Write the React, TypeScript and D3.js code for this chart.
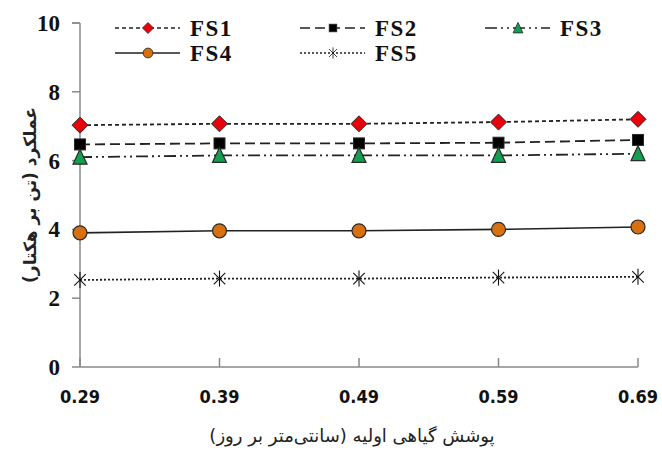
import React from "react";
import * as d3 from "d3";

const xLabels = ["0.29", "0.39", "0.49", "0.59", "0.69"];
const seriesNames = ["FS1", "FS2", "FS3", "FS4", "FS5"];
const fs1 = [7.03, 7.07, 7.07, 7.12, 7.2];
const fs2 = [6.47, 6.5, 6.5, 6.52, 6.6];
const fs3 = [6.1, 6.15, 6.15, 6.15, 6.2];
const fs4 = [3.9, 3.96, 3.96, 4.0, 4.07];
const fs5 = [2.53, 2.57, 2.57, 2.6, 2.62];
const yTicks = [0, 2, 4, 6, 8, 10];

const seriesValues = [fs1, fs2, fs3, fs4, fs5];
const dashes = ["4,3", "10,5", "12,4,2,4,2,4", "", "2,2"];
const markers = ["diamond", "square", "triangle", "circle", "asterisk"];
const fills = ["#e8000b", "#000000", "#12a050", "#d9700f", "none"];

function Marker({ type, x, y, fill }: { type: string; x: number; y: number; fill: string }) {
  const stroke = "#2a2a2a";
  if (type === "diamond") {
    const s = 8;
    return <path d={`M${x},${y - s}L${x + s},${y}L${x},${y + s}L${x - s},${y}Z`} fill={fill} stroke={stroke} strokeWidth={1} />;
  }
  if (type === "square") {
    const s = 5.5;
    return <rect x={x - s} y={y - s} width={2 * s} height={2 * s} fill={fill} stroke={stroke} strokeWidth={1} />;
  }
  if (type === "triangle") {
    const s = 7;
    return <path d={`M${x},${y - s - 1}L${x + s},${y + s}L${x - s},${y + s}Z`} fill={fill} stroke={stroke} strokeWidth={1.2} />;
  }
  if (type === "circle") {
    return <circle cx={x} cy={y} r={7} fill={fill} stroke={stroke} strokeWidth={1.2} />;
  }
  const s = 8;
  const d = s * 0.72;
  return (
    <g stroke="#111" strokeWidth={1.1}>
      <line x1={x} y1={y - s} x2={x} y2={y + s} />
      <line x1={x - d} y1={y - d} x2={x + d} y2={y + d} />
      <line x1={x - d} y1={y + d} x2={x + d} y2={y - d} />
    </g>
  );
}

export default function App() {
  const left = 80, right = 638, top = 23, bottom = 367;
  const x = d3.scalePoint<string>().domain(xLabels).range([left, right]);
  const y = d3.scaleLinear().domain([0, 10]).range([bottom, top]);
  const line = d3
    .line<number>()
    .x((_, i) => x(xLabels[i]) as number)
    .y((d) => y(d));

  const legendPos = [
    [115, 28],
    [300, 28],
    [485, 28],
    [115, 53],
    [300, 53],
  ];

  return (
    <svg width={662} height={450} style={{ position: "absolute", left: 0, top: 0, background: "#fff" }}>
      {/* axes */}
      <line x1={left} y1={top} x2={left} y2={bottom} stroke="#8a8a8a" strokeWidth={1.5} />
      <line x1={left - 8} y1={top} x2={left} y2={top} stroke="#8a8a8a" strokeWidth={1.5} />
      <line x1={left} y1={bottom} x2={right} y2={bottom} stroke="#8a8a8a" strokeWidth={1.5} />
      {yTicks.map((t) => (
        <g key={t}>
          <line x1={left - 8} y1={y(t)} x2={left} y2={y(t)} stroke="#8a8a8a" strokeWidth={1.5} />
          <text
            x={left - 20}
            y={y(t)}
            dy="0.35em"
            textAnchor="end"
            fontFamily="Liberation Serif, serif"
            fontWeight="bold"
            fontSize={23}
            fill="#111"
          >
            {t}
          </text>
        </g>
      ))}
      {xLabels.map((l) => (
        <g key={l}>
          <line x1={x(l)} y1={bottom - 9} x2={x(l)} y2={bottom} stroke="#8a8a8a" strokeWidth={1.5} />
          <text
            x={x(l)}
            y={bottom + 36}
            textAnchor="middle"
            fontFamily="DejaVu Sans Condensed, DejaVu Sans, sans-serif"
            fontWeight="bold"
            fontSize={18}
            fill="#111"
          >
            {l}
          </text>
        </g>
      ))}
      {/* series */}
      {seriesValues.map((vals, si) => (
        <g key={si}>
          <path
            d={line(vals) || ""}
            fill="none"
            stroke="#222"
            strokeWidth={si === 3 ? 1.6 : 1.8}
            strokeDasharray={dashes[si] || undefined}
          />
          {vals.map((v, i) => (
            <Marker key={i} type={markers[si]} x={x(xLabels[i]) as number} y={y(v)} fill={fills[si]} />
          ))}
        </g>
      ))}
      {/* legend */}
      {seriesNames.map((n, si) => {
        const [lx, ly] = legendPos[si];
        const cx = lx + 33;
        return (
          <g key={n}>
            <line x1={lx} y1={ly} x2={lx + 65} y2={ly} stroke="#222" strokeWidth={1.6} strokeDasharray={dashes[si] || undefined} />
            <g transform={`translate(${cx},${ly}) scale(0.7) translate(${-cx},${-ly})`}>
              <Marker type={markers[si]} x={cx} y={ly} fill={fills[si]} />
            </g>
            <text
              x={lx + 75}
              y={ly}
              dy="0.35em"
              fontFamily="Liberation Serif, serif"
              fontWeight="bold"
              fontSize={23}
              letterSpacing={1.5}
              fill="#111"
            >
              {n}
            </text>
          </g>
        );
      })}
      {/* axis titles */}
      <text
        transform={`translate(30,195) rotate(-90)`}
        textAnchor="middle"
        dy="0.35em"
        fontFamily="DejaVu Sans, sans-serif"
        fontSize={17}
        fontWeight="bold"
        fill="#222"
        direction="rtl"
      >
        عملکرد (تن بر هکتار)
      </text>
      <text
        x={352}
        y={436}
        textAnchor="middle"
        dy="0.35em"
        fontFamily="DejaVu Sans, sans-serif"
        fontSize={18}
        fill="#222"
        direction="rtl"
      >
        پوشش گیاهی اولیه (سانتی‌متر بر روز)
      </text>
    </svg>
  );
}
